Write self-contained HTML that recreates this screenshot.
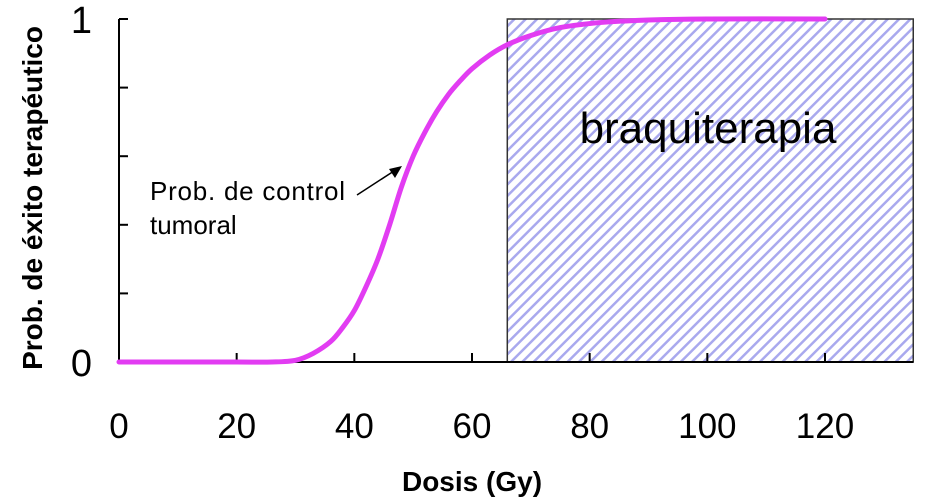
<!DOCTYPE html>
<html><head><meta charset="utf-8"><style>
html,body{margin:0;padding:0;background:#fff;}
svg{display:block;font-family:"Liberation Sans",Arial,sans-serif;}
</style></head><body>
<svg id="chart" width="934" height="500" viewBox="0 0 934 500">
<defs>
<pattern id="hatch" patternUnits="userSpaceOnUse" width="8" height="8" patternTransform="rotate(45)">
<rect width="8" height="8" fill="#fff"/>
<line x1="0" y1="0" x2="0" y2="8" stroke="#a9a9ee" stroke-width="5"/>
</pattern>
</defs>
<g id="region"></g>
<g id="axes"></g>
<g id="series"></g>
<g id="labels"></g>
</svg>
<script>
const xTicks=[0,20,40,60,80,100,120];
const yTickVals=[0,0.2,0.4,0.6,0.8,1];
const yTickLabels=["0","1"];
const doses=[0,10,20,26,30,33,36,38,40,42,44,46,48,50,52,54,56,58,60,63,66,70,75,82,90,100,120];
const probs=[0,0,0,0,0.005,0.025,0.06,0.1,0.15,0.22,0.30,0.40,0.51,0.60,0.67,0.73,0.78,0.82,0.855,0.895,0.925,0.952,0.975,0.99,0.997,1,1];
const brachyStart=66;
const brachyEnd=135;
const NS="http://www.w3.org/2000/svg";
const x=v=>119+v*(706/120);
const y=v=>362-v*343;
function mk(tag,attrs,parent,text){const e=document.createElementNS(NS,tag);for(const k in attrs)e.setAttribute(k,attrs[k]);if(text!==undefined)e.textContent=text;parent.appendChild(e);return e;}
const reg=document.getElementById('region'),ax=document.getElementById('axes'),se=document.getElementById('series'),lb=document.getElementById('labels');
const box=mk('rect',{x:x(brachyStart),y:y(1),width:x(brachyEnd)-x(brachyStart),height:y(0)-y(1),fill:"url(#hatch)",stroke:"#333","stroke-width":1.5},reg);


const bt=mk('text',{x:708,y:143,"font-size":44,"text-anchor":"middle",fill:"#000"},reg,"braquiterapia");


const xa=mk('line',{x1:x(0),y1:y(0),x2:x(brachyEnd),y2:y(0),stroke:"#000","stroke-width":2},ax);


const ya=mk('line',{x1:x(0),y1:y(0),x2:x(0),y2:y(1),stroke:"#000","stroke-width":2},ax);


xTicks.forEach(t=>{
 const l=mk('line',{x1:x(t),y1:y(0),x2:x(t),y2:y(0)-9,stroke:"#000","stroke-width":2},ax);
 
 
 const tx=mk('text',{x:x(t),y:438,"font-size":35,"text-anchor":"middle"},ax,String(t));
 
 
});
yTickVals.forEach(t=>{
 const l=mk('line',{x1:x(0),y1:y(t),x2:x(0)+9,y2:y(t),stroke:"#000","stroke-width":2},ax);
 
 
});
[[0,yTickLabels[0]],[1,yTickLabels[1]]].forEach(([v,s])=>{
 const tx=mk('text',{x:92,y:y(v)+14,"font-size":38,"text-anchor":"end"},ax,s);
 
 
});
const pts=doses.map((d,i)=>[x(d),y(probs[i])]);
let d="M"+pts[0][0]+","+pts[0][1];
for(let i=0;i<pts.length-1;i++){
 const p0=pts[Math.max(0,i-1)],p1=pts[i],p2=pts[i+1],p3=pts[Math.min(pts.length-1,i+2)];
 const c1=[p1[0]+(p2[0]-p0[0])/6,p1[1]+(p2[1]-p0[1])/6];
 const c2=[p2[0]-(p3[0]-p1[0])/6,p2[1]-(p3[1]-p1[1])/6];
 d+=` C${c1[0]},${c1[1]} ${c2[0]},${c2[1]} ${p2[0]},${p2[1]}`;
}
const c=mk('path',{d:d,fill:"none",stroke:"#e23cf2","stroke-width":5,"stroke-linecap":"round"},se);


const a=mk('line',{x1:357,y1:195,x2:394,y2:171,stroke:"#000","stroke-width":1.5},lb);


const ah=mk('polygon',{points:"402,166 389,169 395,178",fill:"#000"},lb);


const t1=mk('text',{x:150,y:200,"font-size":26,textLength:195},lb,"Prob. de control");


const t2=mk('text',{x:150,y:234,"font-size":26},lb,"tumoral");


const xt=mk('text',{x:472,y:491,"font-size":28,"font-weight":"bold","text-anchor":"middle"},lb,"Dosis (Gy)");


const yt=mk('text',{x:0,y:0,"font-size":28,"font-weight":"bold","text-anchor":"middle",transform:"translate(42,198) rotate(-90)"},lb,"Prob. de éxito terapéutico");


</script>
</body></html>
